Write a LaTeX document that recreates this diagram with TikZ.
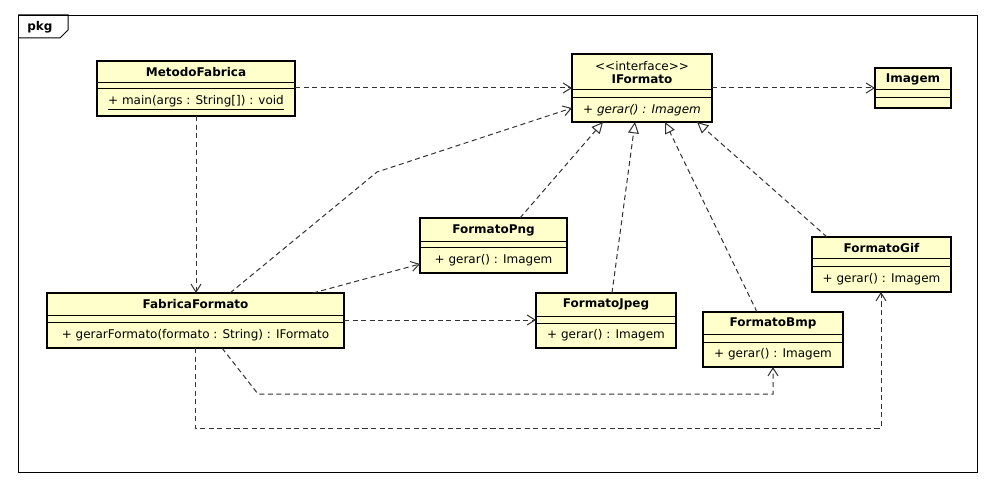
\documentclass[tikz,border=0pt]{standalone}
\usepackage{fontspec}
\setmainfont{DejaVu Sans}
\usetikzlibrary{arrows.meta,calc}
\definecolor{umlfill}{RGB}{255,255,204}
\definecolor{linegray}{RGB}{50,50,50}
\newcommand\umlclass[7]{%
  \node[cls, minimum width={(#4-#2)*0.75pt}, minimum height={(#5-#3)*0.75pt}] (#1) at (#2,#3) {};
  \draw[divl] (#1.west |- 0,#6) -- (#1.east |- 0,#6);
  \draw[divl] (#1.west |- 0,#7) -- (#1.east |- 0,#7);
}
\begin{document}
\begin{tikzpicture}[x=0.75pt,y=-0.75pt,
  font=\fontsize{9}{11}\selectfont,
  cls/.style={draw=black, line width=1.5pt, fill=umlfill, anchor=north west, inner sep=0pt, outer sep=0pt},
  divl/.style={line width=0.75pt},
  txt/.style={inner sep=0pt, anchor=center},
  bold/.style={txt, font=\fontsize{9}{11}\selectfont\bfseries},
  dep/.style={draw=linegray, line width=0.75pt, dash pattern=on 3.8pt off 2.6pt, -{Straight Barb[length=6pt,width=7.5pt,line width=0.75pt]}},
  real/.style={draw=linegray, line width=0.75pt, dash pattern=on 3.8pt off 2.6pt, -{Triangle[open,length=8.5pt,width=8pt,line width=0.75pt,fill=white]}}]
\useasboundingbox (0,0) rectangle (992,488);
\fill[white] (0,0) rectangle (992,488);
% frame
\node[draw=black, line width=0.75pt, anchor=north west, inner sep=0pt, minimum width={959*0.75pt}, minimum height={457*0.75pt}] (frame) at (18,15) {};
\draw[line width=0.75pt] (frame.north west) -- (68,15) -- (68,30) -- (60,38) -- (frame.west |- 0,38);
\node[bold, anchor=west] (pkg) at (27,27) {pkg};

% classes
\umlclass{mf}{97}{61}{295}{116}{83}{89}
\node[bold] (mfn) at (196,72) {MetodoFabrica};
\node[txt] (mfm) at (196,103) {\underline{+ main(args : String[]) : void}};

\umlclass{if}{572}{54}{712}{122}{90}{98}
\node[txt] (ifs) at (642,66) {{<}{<}interface{>}{>}};
\node[bold] (ifn) at (642,79) {IFormato};
\node[txt] (ifm) at (642,110) {\itshape + gerar() : Imagem};

\umlclass{im}{875}{68}{951}{108}{90}{98}
\node[bold] (imn) at (913,79) {Imagem};

\umlclass{fp}{420}{218}{567}{273}{242}{248}
\node[bold] (fpn) at (493.5,230) {FormatoPng};
\node[txt] (fpm) at (493.5,260) {+ gerar() : Imagem};

\umlclass{ff}{47}{293}{344}{348}{315}{322}
\node[bold] (ffn) at (195.5,304) {FabricaFormato};
\node[txt] (ffm) at (195.5,335) {+ gerarFormato(formato : String) : IFormato};

\umlclass{fj}{536}{293}{676}{348}{316}{323}
\node[bold] (fjn) at (606,304.5) {FormatoJpeg};
\node[txt] (fjm) at (606,335) {+ gerar() : Imagem};

\umlclass{fb}{703}{312}{843}{367}{334}{342}
\node[bold] (fbn) at (773,323) {FormatoBmp};
\node[txt] (fbm) at (773,354) {+ gerar() : Imagem};

\umlclass{fg}{812}{237}{951}{292}{259}{267}
\node[bold] (fgn) at (881.5,248) {FormatoGif};
\node[txt] (fgm) at (881.5,279) {+ gerar() : Imagem};

% dependencies
\draw[dep] (mf.east |- 0,88) -- (if.west |- 0,88);
\draw[dep] (if.east |- 0,88) -- (im.west |- 0,88);
\draw[dep] (mf.south -| 196,0) -- (ff.north -| 196,0);
\draw[dep] (ff.north -| 230,0) -- (377,172) -- (if.west |- 0,108);
\draw[dep] (ff.north -| 313,0) -- (fp.west |- 0,264);
\draw[dep] (ff.east |- 0,320) -- (fj.west |- 0,320);
\draw[dep] (ff.south -| 222,0) -- (258,394) -- (773,394) -- (fb.south -| 773,0);
\draw[dep] (ff.south -| 195,0) -- (195,428) -- (881,428) -- (fg.south -| 881,0);

% realizations
\draw[real] (fp.north -| 520,0) -- (if.south -| 603,0);
\draw[real] (fj.north -| 612,0) -- (if.south -| 635,0);
\draw[real] (fb.north -| 757,0) -- (if.south -| 665,0);
\draw[real] (fg.north -| 827,0) -- (if.south -| 697,0);
\end{tikzpicture}
\end{document}
